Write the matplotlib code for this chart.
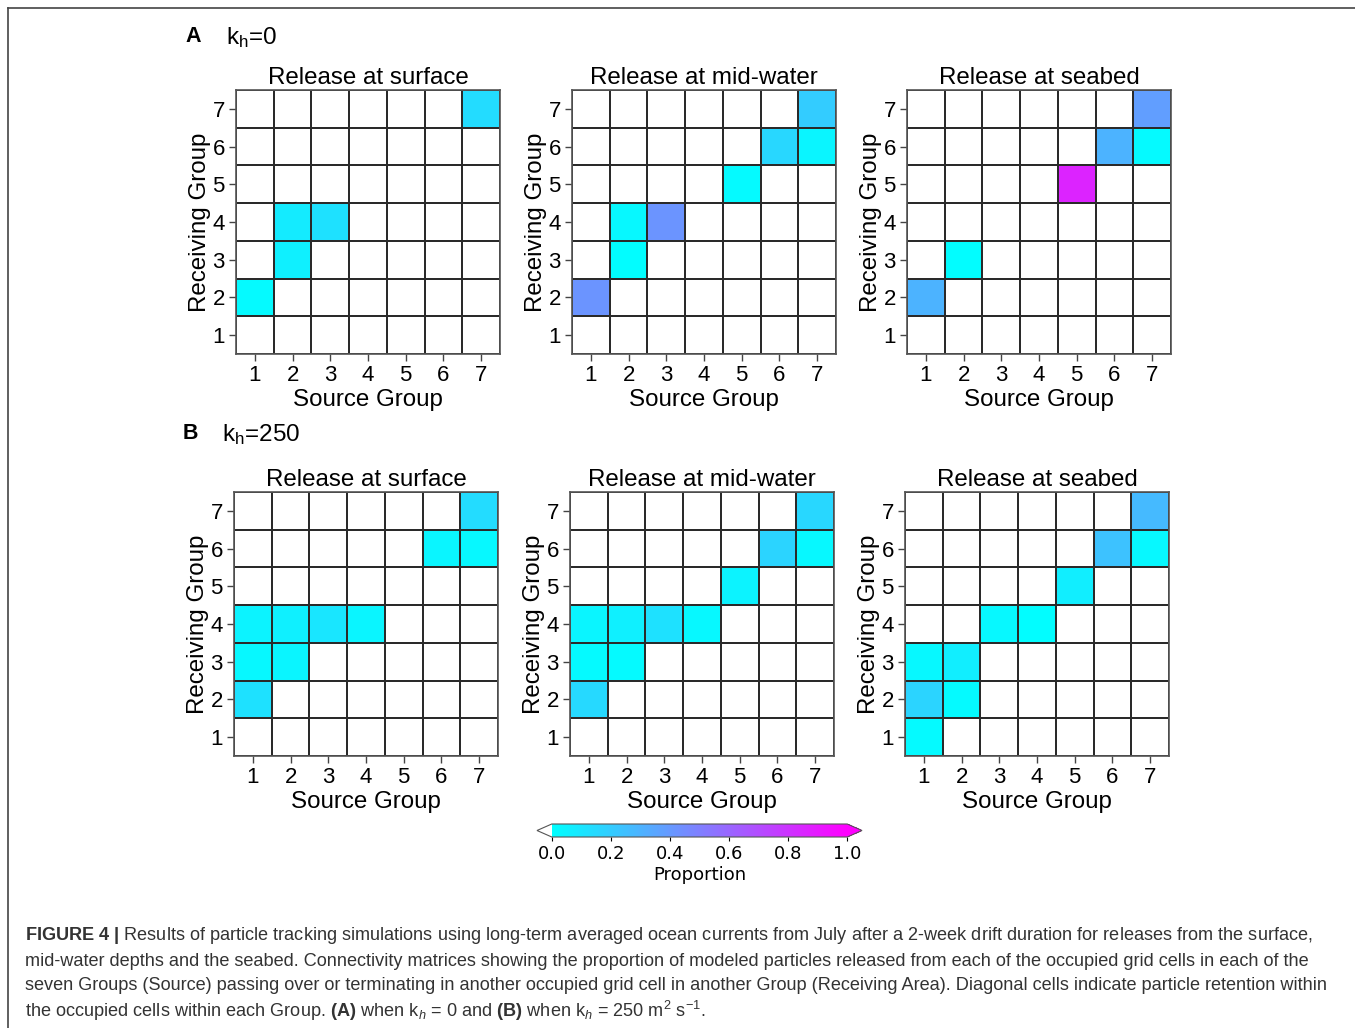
import numpy as np
import matplotlib
matplotlib.use("Agg")
import matplotlib.pyplot as plt
from matplotlib.lines import Line2D

plt.rcParams['font.family'] = ['Liberation Sans', 'DejaVu Sans']
plt.rcParams['mathtext.fontset'] = 'custom'
plt.rcParams['mathtext.rm'] = 'Liberation Sans'
plt.rcParams['mathtext.it'] = 'Liberation Sans:italic'
plt.rcParams['mathtext.bf'] = 'Liberation Sans:bold'

groups = [1, 2, 3, 4, 5, 6, 7]
depths = ["Release at surface", "Release at mid-water", "Release at seabed"]

# rows = receiving group 1..7, columns = source group 1..7 (0 = no connection)
kh0_surface = [
    [0, 0, 0, 0, 0, 0, 0],
    [0.02, 0, 0, 0, 0, 0, 0],
    [0, 0.06, 0, 0, 0, 0, 0],
    [0, 0.08, 0.12, 0, 0, 0, 0],
    [0, 0, 0, 0, 0, 0, 0],
    [0, 0, 0, 0, 0, 0, 0],
    [0, 0, 0, 0, 0, 0, 0.14],
]
kh0_midwater = [
    [0, 0, 0, 0, 0, 0, 0],
    [0.42, 0, 0, 0, 0, 0, 0],
    [0, 0.01, 0, 0, 0, 0, 0],
    [0, 0.03, 0.42, 0, 0, 0, 0],
    [0, 0, 0, 0, 0.02, 0, 0],
    [0, 0, 0, 0, 0, 0.16, 0.04],
    [0, 0, 0, 0, 0, 0, 0.2],
]
kh0_seabed = [
    [0, 0, 0, 0, 0, 0, 0],
    [0.3, 0, 0, 0, 0, 0, 0],
    [0, 0.01, 0, 0, 0, 0, 0],
    [0, 0, 0, 0, 0, 0, 0],
    [0, 0, 0, 0, 0.86, 0, 0],
    [0, 0, 0, 0, 0, 0.3, 0.02],
    [0, 0, 0, 0, 0, 0, 0.38],
]
kh250_surface = [
    [0, 0, 0, 0, 0, 0, 0],
    [0.12, 0, 0, 0, 0, 0, 0],
    [0.03, 0.04, 0, 0, 0, 0, 0],
    [0.05, 0.06, 0.1, 0.04, 0, 0, 0],
    [0, 0, 0, 0, 0, 0, 0],
    [0, 0, 0, 0, 0, 0.04, 0.03],
    [0, 0, 0, 0, 0, 0, 0.14],
]
kh250_midwater = [
    [0, 0, 0, 0, 0, 0, 0],
    [0.15, 0, 0, 0, 0, 0, 0],
    [0.02, 0.02, 0, 0, 0, 0, 0],
    [0.04, 0.06, 0.12, 0.03, 0, 0, 0],
    [0, 0, 0, 0, 0.05, 0, 0],
    [0, 0, 0, 0, 0, 0.17, 0.03],
    [0, 0, 0, 0, 0, 0, 0.16],
]
kh250_seabed = [
    [0.02, 0, 0, 0, 0, 0, 0],
    [0.17, 0.02, 0, 0, 0, 0, 0],
    [0.03, 0.07, 0, 0, 0, 0, 0],
    [0, 0, 0.03, 0.01, 0, 0, 0],
    [0, 0, 0, 0, 0.07, 0, 0],
    [0, 0, 0, 0, 0, 0.24, 0.03],
    [0, 0, 0, 0, 0, 0, 0.27],
]

W, H = 1355, 1028
fig = plt.figure(figsize=(W / 100, H / 100), dpi=100)

cmap = plt.get_cmap('cool').copy()
cmap.set_bad('white')
cmap.set_under('white')
cmap.set_over('magenta')


def px_axes(x0, y0, x1, y1):
    return fig.add_axes([x0 / W, 1 - y1 / H, (x1 - x0) / W, (y1 - y0) / H])


def draw_matrix(ax, mat, title):
    data = np.ma.masked_equal(np.array(mat, dtype=float), 0)
    edges = np.arange(0.5, 8.5, 1)
    mesh = ax.pcolormesh(edges, edges, data, cmap=cmap, vmin=0, vmax=1,
                         edgecolors='#2a2a2a', linewidth=1.1)
    ax.set_xlim(0.5, 7.5)
    ax.set_ylim(0.5, 7.5)
    ax.set_xticks(groups)
    ax.set_yticks(groups)
    ax.tick_params(labelsize=16, length=5, width=1, color='#444444', pad=3)
    for s in ax.spines.values():
        s.set_color('#555555')
        s.set_linewidth(1.2)
    ax.set_title(title, fontsize=17.4, pad=4)
    ax.set_xlabel("Source Group", fontsize=17.4, labelpad=2)
    ax.set_ylabel("Receiving Group", fontsize=17.4, labelpad=1)
    return mesh


top = [kh0_surface, kh0_midwater, kh0_seabed]
bottom = [kh250_surface, kh250_midwater, kh250_seabed]
top_x = [236, 572, 907]
bot_x = [234, 570, 905]
for i in range(3):
    ax = px_axes(top_x[i], 90, top_x[i] + 264, 354)
    mesh = draw_matrix(ax, top[i], depths[i])
    ax = px_axes(bot_x[i], 492, bot_x[i] + 264, 756)
    draw_matrix(ax, bottom[i], depths[i])

fig.text(185 / W, 1 - 36 / H, "A", fontsize=15.5, fontweight='bold', va='center')
fig.text(226 / W, 1 - 38 / H, r"k$_\mathregular{h}$=0", fontsize=17.5, va='center')
fig.text(183 / W, 1 - 433 / H, "B", fontsize=15.5, fontweight='bold', va='center')
fig.text(222 / W, 1 - 435 / H, r"k$_\mathregular{h}$=250", fontsize=17.5, va='center')

cax = px_axes(537, 824, 862, 837)
cb = fig.colorbar(mesh, cax=cax, orientation='horizontal', extend='both',
                  extendfrac=0.05, ticks=[0, 0.2, 0.4, 0.6, 0.8, 1.0])
cb.outline.set_edgecolor('#555555')
cb.ax.tick_params(labelsize=13, length=3, pad=3)
for t in cb.ax.get_xticklabels():
    t.set_fontfamily('DejaVu Sans')
cb.set_label("Proportion", fontsize=13, labelpad=2, family='DejaVu Sans')

# figure frame (top and left edges)
fig.add_artist(Line2D([8 / W, 1], [1 - 8 / H, 1 - 8 / H], color='#444444', lw=1.2))
fig.add_artist(Line2D([8 / W, 8 / W], [0, 1 - 8 / H], color='#444444', lw=1.2))

caption = [
    r"$\mathbf{FIGURE\ 4\ |}$ Results of particle tracking simulations using long-term averaged ocean currents from July after a 2-week drift duration for releases from the surface,",
    "mid-water depths and the seabed. Connectivity matrices showing the proportion of modeled particles released from each of the occupied grid cells in each of the",
    "seven Groups (Source) passing over or terminating in another occupied grid cell in another Group (Receiving Area). Diagonal cells indicate particle retention within",
    r"the occupied cells within each Group. $\mathbf{(A)}$ when k$_{\mathit{h}}$ = 0 and $\mathbf{(B)}$ when k$_{\mathit{h}}$ = 250 m$^{2}$ s$^{-1}$.",
]
for j, line in enumerate(caption):
    fig.text(25 / W, 1 - (936 + 25 * j) / H, line, fontsize=13.1, color='#333333', va='center')

fig.savefig("out.png", dpi=100)
